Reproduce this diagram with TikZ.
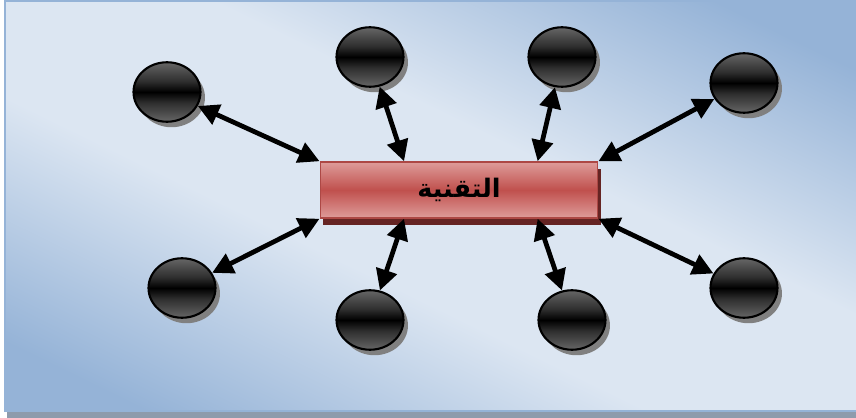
\documentclass[tikz,border=0pt]{standalone}
\usepackage{fontspec}
\newfontfamily\arabicfont[Script=Arabic]{DejaVu Sans}
\TeXXeTstate=1
\usepackage{tikz}
\usetikzlibrary{arrows.meta}
\usetikzlibrary{shapes.geometric}
\usetikzlibrary{shadows}
\usetikzlibrary{calc}
\definecolor{panelblue}{HTML}{95B3D7}
\definecolor{panellight}{HTML}{DCE6F2}
\definecolor{panelshadow}{HTML}{8E9BAC}
\definecolor{boxred}{HTML}{C0504D}
\definecolor{boxpink}{HTML}{DE9C9A}
\definecolor{boxshadow}{HTML}{652423}
\pgfdeclareverticalshading{panelshade}{100bp}{color(0bp)=(panelblue); color(22bp)=(panelblue);
    color(42bp)=(panellight); color(58bp)=(panellight); color(78bp)=(panelblue); color(100bp)=(panelblue)}
\pgfdeclareverticalshading{bubbleshade}{100bp}{color(0bp)=(black!60); color(25bp)=(black!60);
    color(41bp)=(black!82); color(50bp)=(black); color(59bp)=(black!82); color(75bp)=(black!60); color(100bp)=(black!60)}
\tikzset{
    panel/.style={
           shading=panelshade,
           shading angle=-26,
           },
    hub/.style={
           rectangle,
           draw=boxred!90!black, line width=0.03cm,
           top color=boxpink,
           bottom color=boxpink,
           middle color=boxred,
           minimum width=5.55cm,
           minimum height=1.12cm,
           inner sep=2pt,
           text centered,
           drop shadow={shadow xshift=0.06cm, shadow yshift=-0.15cm,
                        fill=boxshadow, opacity=1},
           },
    bubble/.style={
           ellipse,
           draw=black, line width=1.2pt,
           shading=bubbleshade,
           minimum width=1.34cm,
           minimum height=1.19cm,
           inner sep=0pt,
           drop shadow={shadow xshift=0.09cm, shadow yshift=-0.11cm,
                        fill=black!50, opacity=1},
           },
    link/.style={
           {Triangle[length=0.42cm,width=0.42cm]}-{Triangle[length=0.42cm,width=0.42cm]},
           line width=2.7pt,
           },
}

\begin{document}
\begin{tikzpicture}[x=0.02cm, y=-0.02cm]
	\useasboundingbox (0,0) rectangle (856,418);
	\fill[panelshadow] (7,6) rectangle (880,418);
	\shade[panel] (5,1) rectangle (858,411.5);
	\draw[panelblue, line width=0.04cm] (860,1) -- (5,1) -- (5,411.5) -- (860,411.5);

	\node[hub] (tech) at (459,190) {\arabicfont\bfseries\fontsize{14.5}{16}\selectfont\beginR التقنية\endR};

	%upper row
	\node[bubble] (u1) at (167,92) {};
	\node[bubble] (u2) at (370,57) {};
	\node[bubble] (u3) at (562,57) {};
	\node[bubble] (u4) at (744,83) {};

	%lower row
	\node[bubble] (d1) at (182,288) {};
	\node[bubble] (d2) at (370,320) {};
	\node[bubble] (d3) at (572,320) {};
	\node[bubble] (d4) at (744,288) {};

	\coordinate (ta) at ($(tech.north west)!0.303!(tech.north east)$);
	\coordinate (tb) at ($(tech.north west)!0.782!(tech.north east)$);
	\coordinate (ba) at ($(tech.south west)!0.303!(tech.south east)$);
	\coordinate (bb) at ($(tech.south west)!0.782!(tech.south east)$);

	%EDGES
	\path[link]	(tech.north west) edge (u1)
				(ta) edge (u2)
				(tb) edge (u3)
				(tech.north east) edge (u4);
	\path[link]	(tech.south west) edge (d1)
				(ba) edge (d2)
				(bb) edge (d3)
				(tech.south east) edge (d4);
\end{tikzpicture}
\end{document}
